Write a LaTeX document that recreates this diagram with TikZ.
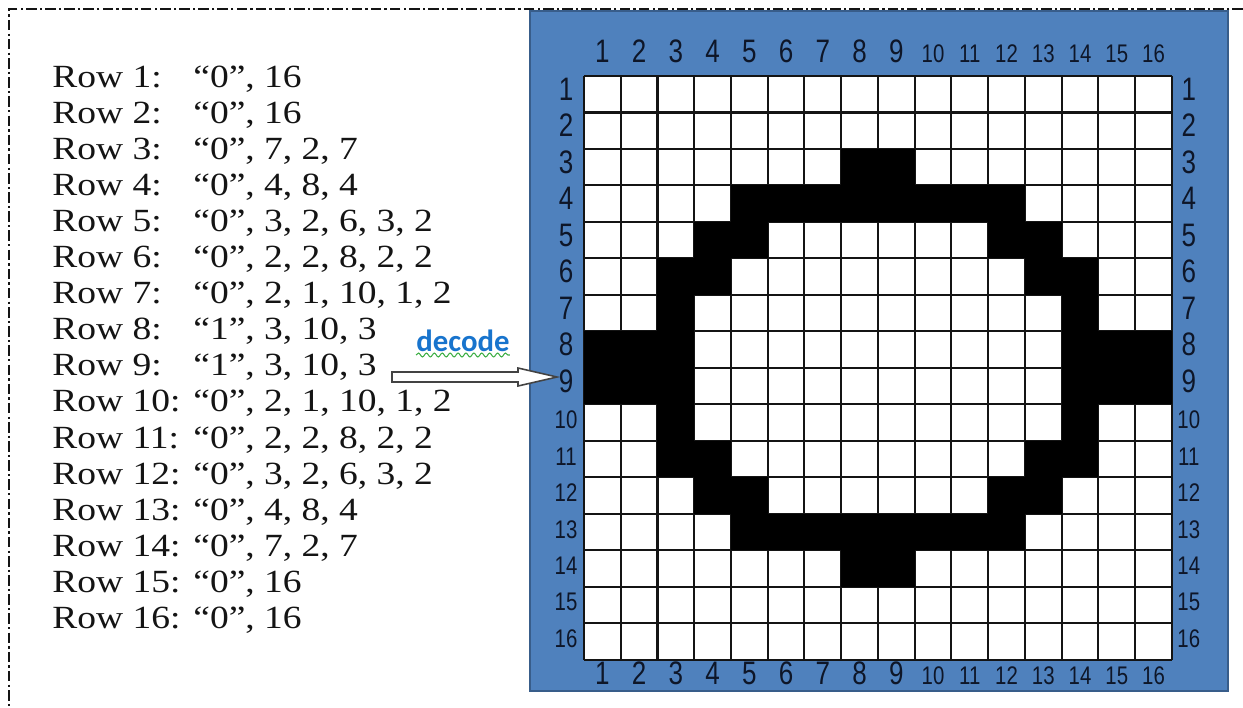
\documentclass[tikz,border=0pt]{standalone}
\usepackage{fontspec}
\setmainfont{Liberation Serif}[FakeStretch=1.16]
\newfontfamily\gridfont{Liberation Sans}[FakeStretch=0.8]
\newfontfamily\notefont{Carlito}
\usetikzlibrary{calc,decorations.pathmorphing}
\definecolor{ink}{HTML}{141414}
\definecolor{panel}{HTML}{4F81BD}
\definecolor{panelrim}{HTML}{385D8A}
\definecolor{numink}{HTML}{0E1628}
\definecolor{note}{HTML}{1874CD}
\definecolor{squig}{HTML}{3FAF46}

\begin{document}
\begin{tikzpicture}[x=0.02cm,y=-0.02cm,
  rowtext/.style={anchor=base west,inner sep=0pt,text=ink,font=\fontsize{18.4}{20}\selectfont},
  cellline/.style={draw=ink,line width=1.15pt},
  gridnum/.style={anchor=base,inner sep=0pt,text=numink},
  framedash/.style={ink,line width=1pt,dash pattern=on 6pt off 1.8pt on 1.3pt off 1.8pt},
  blockarrow/.style={draw=ink!80,fill=white,line width=0.9pt,line join=miter},
  squiggle/.style={squig,line width=0.6pt,decorate,decoration={snake,amplitude=1.1,segment length=4.5}}]
  \useasboundingbox (0,0) rectangle (1243,707);

  % run-length codes
  \foreach \r/\v in {1/{“0”, 16},2/{“0”, 16},3/{“0”, 7, 2, 7},4/{“0”, 4, 8, 4},
      5/{“0”, 3, 2, 6, 3, 2},6/{“0”, 2, 2, 8, 2, 2},7/{“0”, 2, 1, 10, 1, 2},8/{“1”, 3, 10, 3},
      9/{“1”, 3, 10, 3},10/{“0”, 2, 1, 10, 1, 2},11/{“0”, 2, 2, 8, 2, 2},12/{“0”, 3, 2, 6, 3, 2},
      13/{“0”, 4, 8, 4},14/{“0”, 7, 2, 7},15/{“0”, 16},16/{“0”, 16}}{
    \node[rowtext] (rowlab\r) at (52,{87+(\r-1)*36.1}) {Row \r:};
    \node[rowtext] (val\r) at (193,{87+(\r-1)*36.1}) {\v};
  }

  % decoded bitmap
  \draw[fill=panel,draw=panelrim,line width=1.2pt] (530,11) rectangle (1228,691);
  \begin{scope}[shift={(584,76)},x=0.735cm,y=-0.73cm]
    \fill[white] (0,0) rectangle (16,16);
    \foreach \i in {0,...,16}{
      \draw[cellline] (\i,0) -- (\i,16);
      \draw[cellline] (0,\i) -- (16,\i);
    }
    \foreach \r/\a/\b in {3/8/9,4/5/12,5/4/5,5/12/13,6/3/4,6/13/14,7/3/3,7/14/14,
        8/1/3,8/14/16,9/1/3,9/14/16,10/3/3,10/14/14,11/3/4,11/13/14,
        12/4/5,12/12/13,13/5/12,14/8/9}
      \fill[black] (\a-1,\r-1) rectangle (\b,\r);
    \foreach \i [evaluate=\i as \fs using {\i<10 ? 18.5 : 14.5}] in {1,...,16}{
      \node[gridnum,font=\gridfont\fontsize{\fs}{\fs}\selectfont] (colT\i) at (\i-0.5,-0.36) {\i};
      \node[gridnum,font=\gridfont\fontsize{\fs}{\fs}\selectfont] (colB\i) at (\i-0.5,16.68) {\i};
      \node[gridnum,font=\gridfont\fontsize{\fs}{\fs}\selectfont] (rowL\i) at (-0.49,\i-0.34) {\i};
      \node[gridnum,font=\gridfont\fontsize{\fs}{\fs}\selectfont] (rowR\i) at (16.46,\i-0.34) {\i};
    }
  \end{scope}

  % decode arrow
  \node[anchor=base,inner sep=0pt,text=note,font=\notefont\bfseries\fontsize{17.5}{20}\selectfont] (deco) at (463,351) {decode};
  \draw[squiggle] ($(deco.base west)+(0,4)$) -- ($(deco.base east)+(0,4)$);
  \coordinate (atail) at (392,377);
  \coordinate (ahead) at (557,377);
  \draw[blockarrow] ($(atail)+(0,-5)$) -- ($(ahead)+(-39,-5)$) -- ($(ahead)+(-39,-9)$) -- (ahead)
    -- ($(ahead)+(-39,9)$) -- ($(ahead)+(-39,5)$) -- ($(atail)+(0,5)$) -- cycle;

  \draw[framedash] (1243,9) -- (9,9) -- (9,707);
\end{tikzpicture}
\end{document}
